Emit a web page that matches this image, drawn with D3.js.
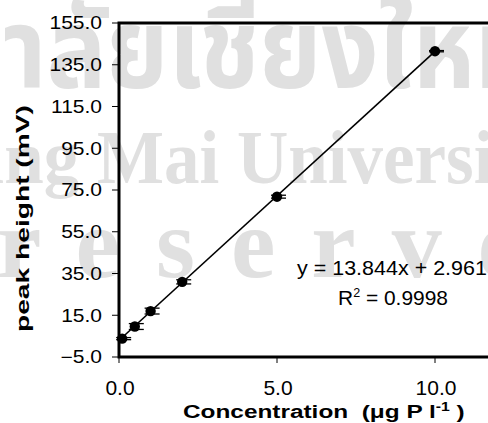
<!DOCTYPE html>
<html>
<head>
<meta charset="utf-8">
<script src="https://cdn.jsdelivr.net/npm/d3@7/dist/d3.min.js"></script>
<style>
  html, body { margin: 0; padding: 0; background: #fff; }
  svg { display: block; }
  text { white-space: pre; }
</style>
</head>
<body>
<svg id="chart" width="488" height="423"></svg>
<script>
// Calibration data: phosphorus standards vs. peak height
const concentration = [0.1, 0.5, 1, 2, 5, 10];          // µg P l-1
const peakHeight    = [3.8, 9.6, 17.0, 31.0, 71.8, 141.5]; // mV
const peakSD        = [0.5, 1.4, 1.4, 1.0, 0.7, 0.3];      // mV
const fitSlope = 13.844;
const fitIntercept = 2.961;
const fitR2 = "0.9998";
const yTickValues = [-5, 15, 35, 55, 75, 95, 115, 135, 155];
const xTickValues = [0, 5, 10];
const watermarkLines = [
  "ลิขสิทธิ์มหาวิทยาลัยเชียงใหม่",
  "Copyright by Chiang Mai University",
  "All rights reserved"
];

const svg = d3.select("#chart");
const plot = { left: 119, top: 23, bottom: 357 };

const x = d3.scaleLinear().domain([0, 12]).range([plot.left, plot.left + 12 * 31.6]);
const y = d3.scaleLinear().domain([-5, 155]).range([plot.bottom, plot.top]);

const sans = "'Liberation Sans', Arial, Helvetica, sans-serif";
const serif = "'Liberation Serif', 'Times New Roman', serif";

// horizontal scale factor that makes a text element span the given width
function fitWidth(sel, width) {
  const w = sel.node().getComputedTextLength();
  return w > 0 ? width / w : 1;
}

// ---- background watermark ----
const wm = svg.append("g").attr("fill", "#e0e0e0");

const thai = wm.append("text")
  .attr("font-family", "'Noto Sans Thai', 'Noto Sans', 'DejaVu Sans', sans-serif")
  .attr("font-weight", "bold")
  .attr("font-size", 100)
  .text(watermarkLines[0]);
{
  const idx = watermarkLines[0].indexOf("าลัย");
  let off = 0;
  try { off = thai.node().getStartPositionOfChar(idx).x; } catch (e) { off = 0; }
  thai.attr("transform", `translate(3,88) scale(1,1.12) translate(${-off},0)`);
}

const copy = wm.append("text")
  .attr("font-family", serif)
  .attr("font-weight", "bold")
  .attr("font-size", 74)
  .text(watermarkLines[1]);
{
  const idx = watermarkLines[1].indexOf("Mai");
  const off = copy.node().getStartPositionOfChar(idx).x;
  copy.attr("transform", `translate(97,183) scale(0.96,1.04) translate(${-off},0)`);
}

const rights = wm.append("text")
  .attr("font-family", serif)
  .attr("font-weight", "bold")
  .attr("font-size", 100)
  .attr("letter-spacing", 36)
  .text(watermarkLines[2]);
{
  const idx = watermarkLines[2].indexOf("reserved");
  const off = rights.node().getStartPositionOfChar(idx).x;
  rights.attr("transform", `translate(${-3 - off},277)`);
}

// ---- frame and axes ----
const axisG = svg.append("g");

// y ticks
axisG.selectAll("line.ytick").data(yTickValues).join("line")
  .attr("x1", plot.left - 7).attr("x2", plot.left)
  .attr("y1", d => y(d)).attr("y2", d => y(d))
  .attr("stroke", "#000").attr("stroke-width", 1);

// x ticks
axisG.selectAll("line.xtick").data(xTickValues).join("line")
  .attr("x1", d => x(d)).attr("x2", d => x(d))
  .attr("y1", plot.bottom).attr("y2", plot.bottom + 6)
  .attr("stroke", "#000").attr("stroke-width", 1);

// frame (right side runs past the visible area)
axisG.append("path")
  .attr("d", `M${plot.left},${plot.top}H${x(12)}V${plot.bottom}H${plot.left}Z`)
  .attr("fill", "none").attr("stroke", "#000").attr("stroke-width", 3);

// y tick labels
axisG.selectAll("text.ylab").data(yTickValues).join("text")
  .attr("font-family", sans).attr("font-size", 17.5)
  .attr("text-anchor", "end").attr("dominant-baseline", "central")
  .attr("transform", d => `translate(102,${y(d) + 0.5}) scale(1.2,1)`)
  .text(d => d3.format(".1f")(d));

// x tick labels
axisG.selectAll("text.xlab").data(xTickValues).join("text")
  .attr("font-family", sans).attr("font-size", 21)
  .attr("text-anchor", "middle")
  .attr("x", d => x(d) + 1).attr("y", 395)
  .text(d => d3.format(".1f")(d));

// axis titles
const xTitle = svg.append("text")
  .attr("font-family", sans).attr("font-size", 18.5).attr("font-weight", "bold");
xTitle.append("tspan").text("Concentration  (μg P l");
xTitle.append("tspan").attr("font-size", 12).attr("dy", -7).text("-1");
xTitle.append("tspan").attr("dy", 7).text(" )");
xTitle.attr("transform", `translate(183,418) scale(${fitWidth(xTitle, 282)},1)`);

const yTitle = svg.append("text")
  .attr("font-family", sans).attr("font-size", 18.5).attr("font-weight", "bold")
  .text("peak height (mV)");
yTitle.attr("transform", `translate(29,332) rotate(-90) scale(${fitWidth(yTitle, 227)},1)`);

// ---- regression line ----
const xr = d3.extent(concentration);
svg.append("line")
  .attr("x1", x(xr[0])).attr("y1", y(fitSlope * xr[0] + fitIntercept))
  .attr("x2", x(xr[1])).attr("y2", y(fitSlope * xr[1] + fitIntercept))
  .attr("stroke", "#000").attr("stroke-width", 1.6);

// ---- error bars ----
const pts = concentration.map((c, i) => ({ c, v: peakHeight[i], sd: peakSD[i] }));
const eb = svg.append("g").attr("stroke", "#000").attr("stroke-width", 1.3);
pts.forEach(p => {
  const cx = x(p.c);
  eb.append("line").attr("x1", cx).attr("x2", cx)
    .attr("y1", y(p.v - p.sd)).attr("y2", y(p.v + p.sd));
  [p.v - p.sd, p.v + p.sd].forEach(val => {
    eb.append("line").attr("x1", cx - 6).attr("x2", cx + 9)
      .attr("y1", y(val)).attr("y2", y(val));
  });
});

// ---- markers ----
svg.append("g").selectAll("circle").data(pts).join("circle")
  .attr("cx", d => x(d.c)).attr("cy", d => y(d.v)).attr("r", 5.2)
  .attr("fill", "#000");

// ---- equation ----
const eq = svg.append("text")
  .attr("font-family", sans).attr("font-size", 20)
  .text(`y = ${fitSlope}x + ${fitIntercept}`);
eq.attr("transform", `translate(297,275) scale(${fitWidth(eq, 190)},1)`);

const r2 = svg.append("text").attr("font-family", sans).attr("font-size", 20);
r2.append("tspan").text("R");
r2.append("tspan").attr("font-size", 12).attr("dy", -8).text("2");
r2.append("tspan").attr("dy", 8).text(" = " + fitR2);
r2.attr("transform", `translate(338,305) scale(${fitWidth(r2, 110)},1)`);
</script>
</body>
</html>
